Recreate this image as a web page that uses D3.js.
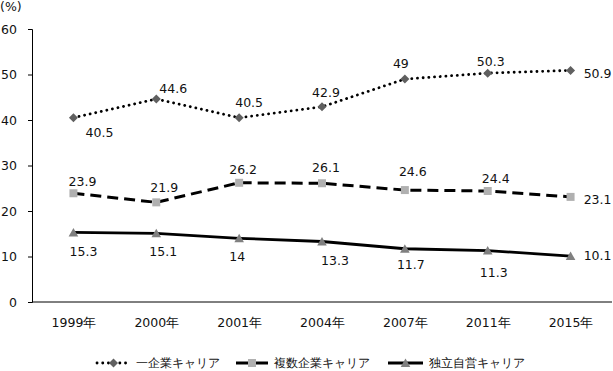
<!DOCTYPE html>
<html>
<head>
<meta charset="utf-8">
<script src="https://cdn.jsdelivr.net/npm/d3@7"></script>
<style>
  body { margin: 0; background: #fff; }
  text { font-family: "DejaVu Sans", Verdana, sans-serif; font-size: 12.5px; fill: #111; }
  .legend text { font-size: 12px; }
</style>
</head>
<body>
<div id="container"></div>
<script>
// data
var years = ["1999年", "2000年", "2001年", "2004年", "2007年", "2011年", "2015年"];
var single = [40.5, 44.6, 40.5, 42.9, 49, 50.3, 50.9];
var multi = [23.9, 21.9, 26.2, 26.1, 24.6, 24.4, 23.1];
var indep = [15.3, 15.1, 14, 13.3, 11.7, 11.3, 10.1];
var seriesNames = ["一企業キャリア", "複数企業キャリア", "独立自営キャリア"];
var yTicks = [0, 10, 20, 30, 40, 50, 60];

// label offsets (centre of label relative to point)
var offA = [[26,15],[17,-10],[10,-15],[4,-14],[-4,-15],[3,-12],[27,3]];
var offB = [[9,-12],[8,-15],[4,-13],[4,-16],[8,-18],[8,-12],[27,3]];
var offC = [[10,19],[7,18],[-2,18],[13,19],[6,16],[6,22],[27,0]];

var width = 613;
var height = 371;

var svg = d3.select("#container")
            .append("svg")
            .attr("width", width)
            .attr("height", height);

var x = d3.scalePoint()
          .domain(years)
          .range([32, 612])
          .padding(0.5);

var y = d3.scaleLinear()
          .domain([0, 60])
          .range([302, 29]);

// y axis
svg.append("g")
   .attr("transform", "translate(32,0)")
   .call(d3.axisLeft(y).tickValues(yTicks).tickSize(4).tickPadding(11))
   .call(function(g) {
     g.selectAll("path, line").attr("stroke", "#000");
     g.selectAll("text").attr("font-family", null).attr("font-size", null);
   });

// x axis
svg.append("g")
   .attr("transform", "translate(0,302)")
   .call(d3.axisBottom(x).tickSize(0).tickPadding(16))
   .call(function(g) {
     g.select(".domain").attr("stroke", "#000").attr("d", "M32,0H612");
     g.selectAll("text").attr("font-family", null).attr("font-size", null);
   });

svg.append("text")
   .attr("x", 0)
   .attr("y", 7)
   .attr("dy", "0.35em")
   .text("(%)");

// marker shapes
function diamond(s) { s.attr("d", "M0,-4.5L4.5,0L0,4.5L-4.5,0Z").attr("fill", "#606060"); }
function square(s) { s.attr("d", "M-4,-4H4V4H-4Z").attr("fill", "#b0b0b0"); }
function triangle(s) { s.attr("d", "M0,-4.5L4.8,4L-4.8,4Z").attr("fill", "#808080"); }

var series = [
  { values: single, off: offA, dash: "0.1,5.6", width: 2.8, marker: diamond },
  { values: multi, off: offB, dash: "11,6", width: 3, marker: square },
  { values: indep, off: offC, dash: null, width: 2.8, marker: triangle }
];

var line = d3.line()
             .x(function(d, i) { return x(years[i]); })
             .y(function(d) { return y(d); });

series.forEach(function(s) {
  svg.append("path")
     .datum(s.values)
     .attr("d", line)
     .attr("fill", "none")
     .attr("stroke", "#000")
     .attr("stroke-width", s.width)
     .attr("stroke-linecap", s.dash && s.dash.indexOf("0.1") == 0 ? "round" : "butt")
     .attr("stroke-dasharray", s.dash);

  svg.selectAll(null)
     .data(s.values)
     .enter().append("path")
     .attr("transform", function(d, i) { return "translate(" + x(years[i]) + "," + y(d) + ")"; })
     .call(s.marker);

  svg.selectAll(null)
     .data(s.values)
     .enter().append("text")
     .attr("x", function(d, i) { return x(years[i]) + s.off[i][0]; })
     .attr("y", function(d, i) { return y(d) + s.off[i][1]; })
     .attr("dy", "0.35em")
     .attr("text-anchor", "middle")
     .text(function(d) { return d; });
});

// legend
var legendX = [97, 236, 388];
var legendW = [33, 32, 35];
var legendY = 363;

series.forEach(function(s, i) {
  var g = svg.append("g").attr("class", "legend");
  g.append("line")
   .attr("x1", legendX[i])
   .attr("x2", legendX[i] + legendW[i])
   .attr("y1", legendY)
   .attr("y2", legendY)
   .attr("stroke", "#000")
   .attr("stroke-width", s.width)
   .attr("stroke-linecap", i == 0 ? "round" : "butt")
   .attr("stroke-dasharray", i == 0 ? s.dash : null);
  g.append("path")
   .attr("transform", "translate(" + (legendX[i] + legendW[i] / 2) + "," + legendY + ")")
   .call(s.marker);
  g.append("text")
   .attr("x", legendX[i] + legendW[i] + 6)
   .attr("y", legendY)
   .attr("dy", "0.35em")
   .text(seriesNames[i]);
});
</script>
</body>
</html>
